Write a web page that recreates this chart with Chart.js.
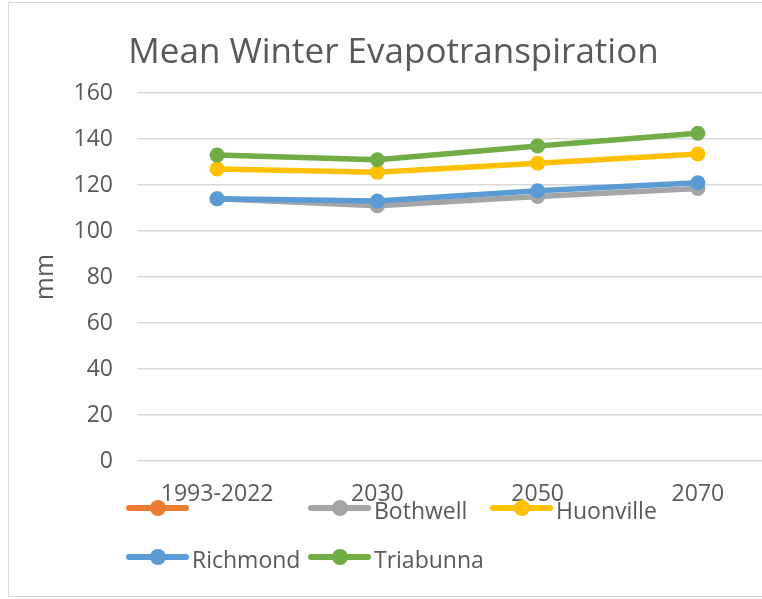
<!DOCTYPE html>
<html>
<head>
<meta charset="utf-8">
<script src="https://cdn.jsdelivr.net/npm/chart.js@4"></script>
<style>
  html, body { margin: 0; padding: 0; background: #fff; overflow: hidden; width: 762px; height: 599px; }
  #frame { position: absolute; left: 8px; top: 2px; width: 790px; height: 595px; border: 1px solid #d9d9d9; box-sizing: border-box; }
  #wrap { position: absolute; left: 0; top: 0; width: 790px; height: 595px; }
  #legend { position: absolute; left: 117px; top: 480px; display: grid; grid-template-columns: 182px 182px 182px; grid-auto-rows: 49px;
            font-family: "Open Sans", sans-serif; font-size: 23px; color: #595959; }
  .item { display: flex; align-items: center; white-space: nowrap; }
  .item span:last-child { position: relative; top: 2px; }
  .swatch { position: relative; width: 63px; height: 6px; border-radius: 3px; margin-right: 3px; }
  .swatch i { position: absolute; left: 24px; top: -5px; width: 16px; height: 16px; border-radius: 50%; }
</style>
</head>
<body>
<div id="frame">
  <div id="wrap"><canvas id="chart"></canvas></div>
  <div id="legend"></div>
</div>
<script>
const categories = ['1993-2022', '2030', '2050', '2070'];
const seriesNames = ['', 'Bothwell', 'Huonville', 'Richmond', 'Triabunna'];
const unnamed = [null, null, null, null];
const bothwell = [114, 111, 115, 118.5];
const huonville = [127, 125.5, 129.5, 133.5];
const richmond = [114, 113, 117.5, 121];
const triabunna = [133, 131, 137, 142.5];
const colors = ['#ED7D31', '#A5A5A5', '#FFC000', '#5B9BD5', '#70AD47'];
const yTicks = [0, 20, 40, 60, 80, 100, 120, 140, 160];

const allValues = [unnamed, bothwell, huonville, richmond, triabunna];
const font = '"Open Sans", sans-serif';
const grey = '#595959';

const datasets = allValues.map((vals, i) => ({
    label: seriesNames[i],
    data: vals,
    borderColor: colors[i],
    backgroundColor: colors[i],
    borderWidth: 5.5,
    pointRadius: 7.5,
    pointHoverRadius: 7.5,
    pointBorderWidth: 0,
    order: allValues.length - i
}));

const chart = new Chart(document.getElementById('chart'), {
    type: 'line',
    data: { labels: categories, datasets: datasets },
    options: {
        responsive: true,
        maintainAspectRatio: false,
        animation: false,
        layout: { padding: { right: 21 } },
        plugins: {
            legend: { display: false },
            tooltip: { enabled: false },
            title: {
                display: true,
                text: 'Mean Winter Evapotranspiration',
                color: grey,
                font: { family: font, size: 35, weight: 'normal' },
                padding: { top: 29, bottom: 19 }
            }
        },
        scales: {
            x: {
                offset: true,
                grid: { display: false },
                border: { display: false },
                ticks: { color: grey, font: { family: font, size: 23 }, padding: 12, maxRotation: 0 },
                afterFit: s => { s.height = 137; }
            },
            y: {
                min: 0,
                max: 160,
                afterBuildTicks: s => { s.ticks = yTicks.map(v => ({ value: v })); },
                grid: { color: '#d9d9d9', lineWidth: 1.5, drawTicks: false },
                border: { display: false },
                ticks: { color: grey, font: { family: font, size: 23 }, padding: 24 },
                title: { display: true, text: 'mm', color: grey, font: { family: font, size: 25 }, padding: { top: 22, bottom: 0 } },
                afterFit: s => { s.width = 128; }
            }
        }
    }
});

const legend = document.getElementById('legend');
chart.data.datasets.forEach(ds => {
    const item = document.createElement('div');
    item.className = 'item';
    item.innerHTML = `<span class="swatch" style="background:${ds.borderColor}"><i style="background:${ds.borderColor}"></i></span><span>${ds.label}</span>`;
    legend.appendChild(item);
});
</script>
</body>
</html>
